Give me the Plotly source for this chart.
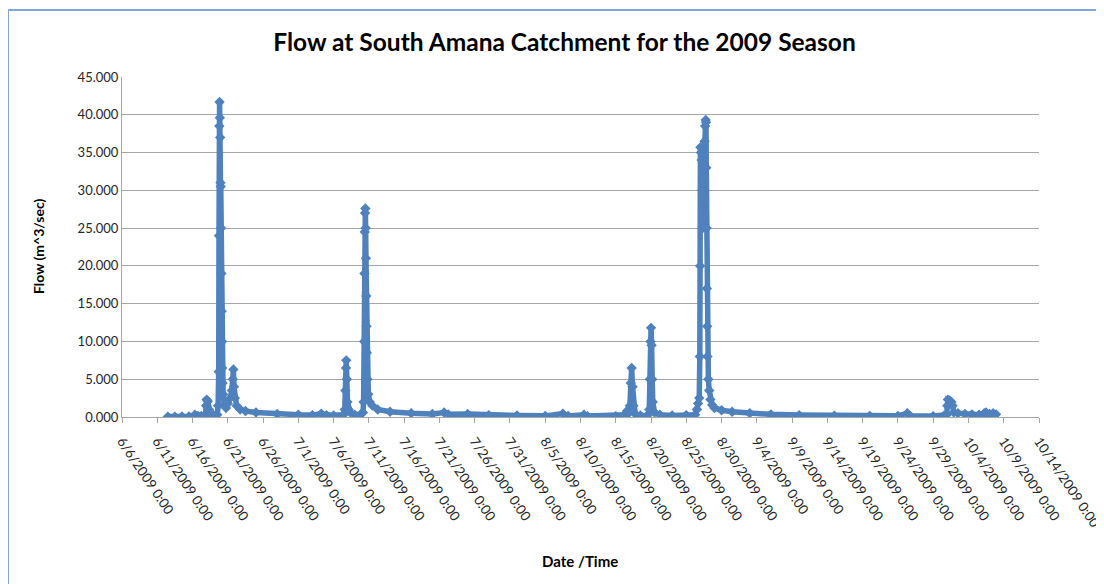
import plotly.graph_objects as go

# ---- data ----
times = [
    "2009-06-12 12:00", "2009-06-13 12:00", "2009-06-14 12:00", "2009-06-15 12:00",
    "2009-06-16 08:00", "2009-06-16 18:00", "2009-06-17 06:00", "2009-06-17 20:00",
    "2009-06-17 22:00", "2009-06-18 00:00", "2009-06-18 04:00", "2009-06-18 08:00",
    "2009-06-18 12:00", "2009-06-19 00:00", "2009-06-19 12:00", "2009-06-19 15:00",
    "2009-06-19 17:00", "2009-06-19 18:00", "2009-06-19 19:00", "2009-06-19 20:00",
    "2009-06-19 21:00", "2009-06-19 22:00", "2009-06-19 23:00", "2009-06-20 00:00",
    "2009-06-20 01:00", "2009-06-20 02:00", "2009-06-20 03:00", "2009-06-20 04:00",
    "2009-06-20 05:00", "2009-06-20 06:00", "2009-06-20 08:00", "2009-06-20 12:00",
    "2009-06-20 18:00", "2009-06-21 00:00", "2009-06-21 08:00", "2009-06-21 14:00",
    "2009-06-21 17:00", "2009-06-21 19:00", "2009-06-21 21:00", "2009-06-22 00:00",
    "2009-06-22 06:00", "2009-06-22 18:00", "2009-06-23 12:00", "2009-06-25 00:00",
    "2009-06-28 00:00", "2009-07-01 00:00", "2009-07-03 00:00", "2009-07-04 06:00",
    "2009-07-05 00:00", "2009-07-06 00:00", "2009-07-07 10:00", "2009-07-07 14:00",
    "2009-07-07 16:00", "2009-07-07 18:00", "2009-07-07 19:00", "2009-07-07 21:00",
    "2009-07-07 23:00", "2009-07-08 03:00", "2009-07-08 09:00", "2009-07-09 00:00",
    "2009-07-09 20:00", "2009-07-10 04:00", "2009-07-10 06:00", "2009-07-10 08:00",
    "2009-07-10 09:00", "2009-07-10 10:00", "2009-07-10 11:00", "2009-07-10 12:00",
    "2009-07-10 13:00", "2009-07-10 14:00", "2009-07-10 15:00", "2009-07-10 16:00",
    "2009-07-10 17:00", "2009-07-10 19:00", "2009-07-10 22:00", "2009-07-11 03:00",
    "2009-07-11 12:00", "2009-07-12 06:00", "2009-07-14 00:00", "2009-07-17 00:00",
    "2009-07-20 00:00", "2009-07-21 16:00", "2009-07-22 06:00", "2009-07-25 00:00",
    "2009-07-28 00:00", "2009-08-01 00:00", "2009-08-05 00:00", "2009-08-07 12:00",
    "2009-08-08 06:00", "2009-08-10 12:00", "2009-08-11 00:00", "2009-08-15 00:00",
    "2009-08-16 06:00", "2009-08-16 14:00", "2009-08-16 20:00", "2009-08-17 00:00",
    "2009-08-17 03:00", "2009-08-17 06:00", "2009-08-17 09:00", "2009-08-17 12:00",
    "2009-08-17 18:00", "2009-08-18 12:00", "2009-08-19 12:00", "2009-08-19 18:00",
    "2009-08-19 20:00", "2009-08-19 22:00", "2009-08-20 00:00", "2009-08-20 02:00",
    "2009-08-20 04:00", "2009-08-20 06:00", "2009-08-20 12:00", "2009-08-21 06:00",
    "2009-08-23 00:00", "2009-08-25 00:00", "2009-08-26 06:00", "2009-08-26 12:00",
    "2009-08-26 16:00", "2009-08-26 20:00", "2009-08-26 22:00", "2009-08-26 23:00",
    "2009-08-27 00:00", "2009-08-27 02:00", "2009-08-27 04:00", "2009-08-27 06:00",
    "2009-08-27 08:00", "2009-08-27 10:00", "2009-08-27 12:00", "2009-08-27 14:00",
    "2009-08-27 16:00", "2009-08-27 18:00", "2009-08-27 19:00", "2009-08-27 20:00",
    "2009-08-27 21:00", "2009-08-27 22:00", "2009-08-27 23:00", "2009-08-28 00:00",
    "2009-08-28 03:00", "2009-08-28 06:00", "2009-08-28 10:00", "2009-08-28 16:00",
    "2009-08-29 00:00", "2009-08-30 00:00", "2009-08-31 12:00", "2009-09-03 00:00",
    "2009-09-06 00:00", "2009-09-10 00:00", "2009-09-15 00:00", "2009-09-20 00:00",
    "2009-09-24 00:00", "2009-09-25 08:00", "2009-09-25 18:00", "2009-09-29 00:00",
    "2009-09-30 12:00", "2009-09-30 22:00", "2009-10-01 00:00", "2009-10-01 02:00",
    "2009-10-01 08:00", "2009-10-01 14:00", "2009-10-01 18:00", "2009-10-01 22:00",
    "2009-10-02 12:00", "2009-10-03 12:00", "2009-10-04 12:00", "2009-10-05 12:00",
    "2009-10-06 06:00", "2009-10-06 12:00", "2009-10-07 00:00", "2009-10-07 12:00",
    "2009-10-07 22:00",
]
flow = [
    0.05, 0.05, 0.06, 0.08,
    0.30, 0.15, 0.15, 0.20,
    1.50, 2.30, 2.10, 1.00,
    0.30, 0.25, 0.30, 1.50,
    6.00, 24.0, 38.5, 41.7,
    39.6, 37.0, 31.0, 30.5,
    25.0, 19.0, 14.0, 10.0,
    6.50, 4.50, 3.00, 1.60,
    1.20, 1.80, 2.50, 3.50,
    5.00, 6.30, 4.00, 2.50,
    1.50, 1.00, 0.80, 0.60,
    0.40, 0.30, 0.25, 0.45,
    0.25, 0.20, 0.30, 1.00,
    3.50, 6.50, 7.50, 5.00,
    2.00, 1.00, 0.60, 0.30,
    0.35, 0.60, 2.00, 10.0,
    19.0, 24.5, 27.0, 27.6,
    25.0, 21.0, 16.0, 12.0,
    8.50, 5.00, 3.00, 2.00,
    1.50, 1.00, 0.70, 0.50,
    0.40, 0.60, 0.35, 0.40,
    0.25, 0.20, 0.15, 0.45,
    0.15, 0.30, 0.12, 0.12,
    0.30, 0.80, 0.50, 1.50,
    4.50, 6.50, 4.00, 1.50,
    0.40, 0.20, 0.20, 1.00,
    5.00, 10.0, 11.8, 9.50,
    5.00, 2.00, 0.60, 0.30,
    0.20, 0.25, 0.30, 1.00,
    1.80, 2.50, 8.00, 20.0,
    35.7, 35.0, 34.0, 30.0,
    25.0, 28.0, 33.0, 36.5,
    38.5, 39.3, 39.0, 33.0,
    25.0, 17.0, 12.0, 8.00,
    5.00, 3.50, 2.30, 1.60,
    1.20, 0.90, 0.70, 0.50,
    0.35, 0.25, 0.18, 0.15,
    0.15, 0.50, 0.15, 0.12,
    0.15, 0.30, 1.50, 2.30,
    2.20, 2.00, 1.50, 0.60,
    0.50, 0.40, 0.35, 0.30,
    0.50, 0.60, 0.40, 0.50,
    0.35,
]

title_text = "Flow at South Amana Catchment for the 2009 Season"
x_title = "Date /Time"
y_title = "Flow (m^3/sec)"
x_range = ["2009-06-06 00:00", "2009-10-14 00:01"]
y_range = [0, 45]

BLUE = "#4F81BD"
GRID = "#A6A6A6"
FONT = "Lato, 'Open Sans', sans-serif"

# page body has an 8px default margin: figure coordinates are offset by 8px
OFF = 8
W, H = 1104, 584
PL, PR, PT, PB = 122, 1039, 77, 417  # plot area in screen pixels
PW, PH = PR - PL, PB - PT

fig = go.Figure()
fig.add_trace(go.Scatter(
    x=times, y=flow, mode="lines+markers",
    line=dict(color=BLUE, width=5.5),
    marker=dict(symbol="diamond", size=8, color=BLUE),
    showlegend=False,
))

fig.update_layout(
    width=W, height=H,
    margin=dict(l=PL - OFF, r=W - (PR - OFF), t=PT - OFF, b=H - (PB - OFF)),
    paper_bgcolor="white", plot_bgcolor="white",
    font=dict(family=FONT, color="#404040"),
    title=dict(text="<b>" + title_text + "</b>", xref="container",
               x=(564.5 - OFF) / W, xanchor="center", yref="container",
               y=1 - (42 - OFF) / H, yanchor="middle",
               font=dict(family=FONT, size=24.5, color="#000000")),
    xaxis=dict(
        type="date", range=x_range, automargin=False,
        tick0="2009-06-06", dtick=5 * 86400000,
        tickformat="%-m/%-d/%Y %-H:%M", tickangle=56,
        ticklabeloverflow="allow", ticklabelstandoff=5,
        tickfont=dict(family=FONT, size=13.5, color="#262626"),
        ticks="outside", ticklen=5, tickcolor=GRID,
        showline=True, linecolor=GRID, linewidth=1,
        showgrid=False, zeroline=False,
    ),
    yaxis=dict(
        range=y_range, dtick=5, tickformat=".3f", automargin=False,
        tickfont=dict(family=FONT, size=13, color="#262626"),
        showgrid=True, gridcolor=GRID, gridwidth=1,
        showline=True, linecolor=GRID, linewidth=1,
        zeroline=False, ticks="",
    ),
    annotations=[
        dict(
            text="<b>" + x_title + "</b>", xref="paper", yref="paper",
            x=(580 - PL) / PW, y=(PB - 561) / PH, xanchor="center", yanchor="middle",
            showarrow=False, font=dict(family=FONT, size=15, color="#000000"),
        ),
        dict(
            text="<b>" + y_title + "</b>", xref="paper", yref="paper",
            x=(38 - PL) / PW, y=(PB - 247) / PH, xanchor="center", yanchor="middle",
            textangle=-90, showarrow=False,
            font=dict(family=FONT, size=14, color="#000000"),
        ),
    ],
    shapes=[dict(
        type="rect", xref="paper", yref="paper",
        x0=(8 - PL) / PW, x1=(1115 - PL) / PW,
        y0=(PB - 600) / PH, y1=(PB - 10) / PH,
        line=dict(color="#7EA6D8", width=2), layer="below",
    )],
)

fig.write_html("out.html")
